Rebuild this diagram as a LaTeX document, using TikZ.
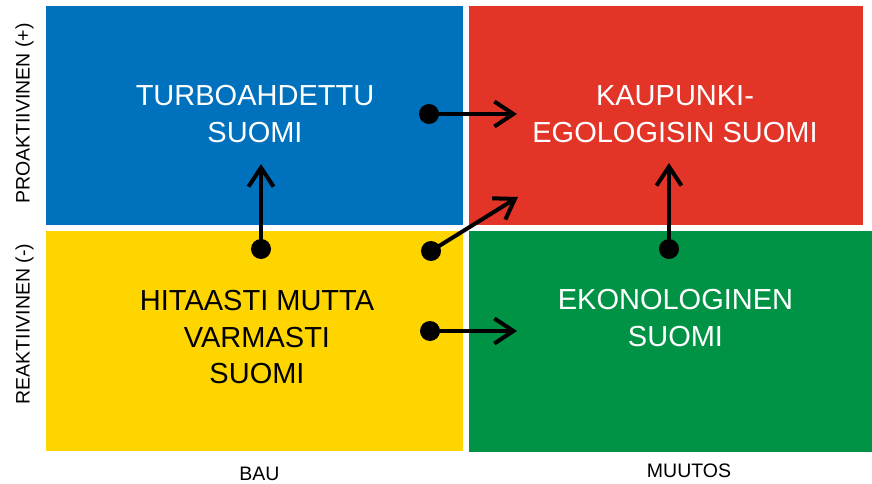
\documentclass[tikz,border=0pt]{standalone}
\usepackage{fontspec}
\setmainfont{Liberation Sans}
\usetikzlibrary{arrows.meta}
\definecolor{qblue}{RGB}{0,113,188}
\definecolor{qred}{RGB}{227,52,40}
\definecolor{qyellow}{RGB}{255,213,0}
\definecolor{qgreen}{RGB}{0,146,69}
\tikzset{
  quadtext/.style={inner sep=0pt, align=center, font=\fontsize{29}{36.5}\selectfont},
  axislabel/.style={inner sep=0pt, font=\fontsize{19.5}{23}\selectfont},
  dot/.style={circle, fill=black, minimum size=20pt, inner sep=0pt},
  move/.style={line width=4pt, -{Straight Barb[length=19pt,width=25pt]}},
}
\begin{document}
\begin{tikzpicture}[x=1pt,y=-1pt]
\useasboundingbox (0,0) rectangle (872,484);
% quadrants
\fill[qblue]   (46,6)    rectangle (463,225);
\fill[qred]    (469,6)   rectangle (863,225);
\fill[qyellow] (46,231)  rectangle (463,451);
\fill[qgreen]  (469,231) rectangle (872,452);
% quadrant titles
\node[quadtext, text=white] (turbo) at (255,114) {TURBOAHDETTU\\SUOMI};
\node[quadtext, text=white] (kaupunki) at (675,114) {KAUPUNKI-\\EGOLOGISIN SUOMI};
\node[quadtext, text=black] (hitaasti) at (257,337.5) {HITAASTI MUTTA\\VARMASTI\\SUOMI};
\node[quadtext, text=white] (ekono) at (675.5,318) {EKONOLOGINEN\\SUOMI};
% axis labels
\node[axislabel, rotate=90, anchor=base] (pro) at (29.5,113.5) {PROAKTIIVINEN (+)};
\node[axislabel, rotate=90, anchor=base] (rea) at (29.5,324) {REAKTIIVINEN (-)};
\node[axislabel, anchor=base] (bau) at (259.5,480) {BAU};
\node[axislabel, anchor=base] (muutos) at (689,477) {MUUTOS};
% transitions
\node[dot] (d1) at (429,114) {};
\coordinate (t1) at (517,114);
\node[dot] (d2) at (431,251) {};
\coordinate (t2) at (518,197);
\node[dot] (d3) at (430,331) {};
\coordinate (t3) at (517,331);
\node[dot] (d4) at (261,249) {};
\coordinate (t4) at (261,164);
\node[dot] (d5) at (669,249) {};
\coordinate (t5) at (669,163);
\draw[move] (d1.center) -- (t1);
\draw[move] (d2.center) -- (t2);
\draw[move] (d3.center) -- (t3);
\draw[move] (d4.center) -- (t4);
\draw[move] (d5.center) -- (t5);
\end{tikzpicture}
\end{document}
